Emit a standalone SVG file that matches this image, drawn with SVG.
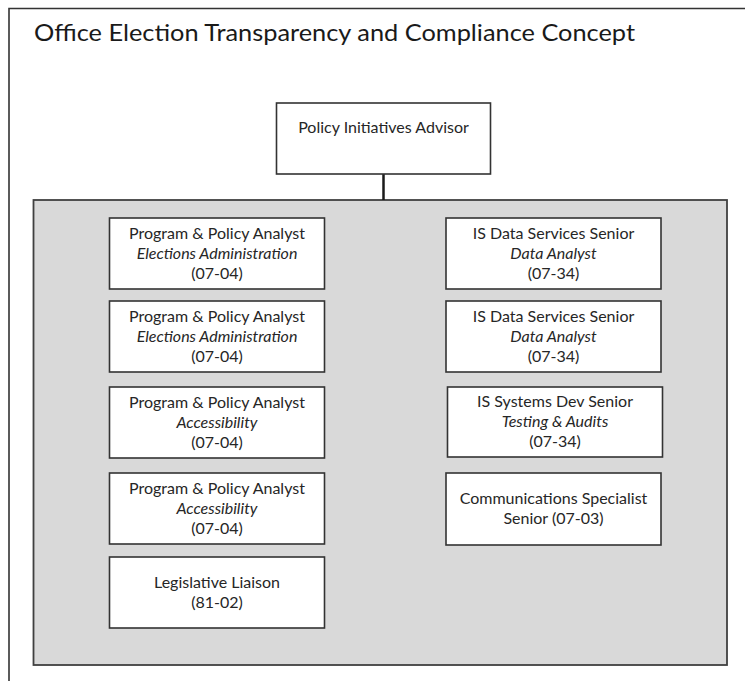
<svg xmlns="http://www.w3.org/2000/svg" width="745" height="681" viewBox="0 0 745 681">
<style>
.box{fill:#ffffff;stroke:#333333;stroke-width:1.6}
.t{font-family:Lato,"Open Sans","Liberation Sans",sans-serif;font-size:16px;fill:#262626;text-anchor:middle}
.i{font-style:italic}
.title{font-family:Lato,"Open Sans","Liberation Sans",sans-serif;font-size:24px;fill:#1a1a1a}
</style>
<rect x="0" y="0" width="745" height="681" fill="#ffffff"/>
<path d="M9,681 V8.5 H745" fill="none" stroke="#333333" stroke-width="1.6"/>
<text class="title" x="34" y="41" textLength="601" lengthAdjust="spacingAndGlyphs">Office Election Transparency and Compliance Concept</text>
<rect id="panel" x="33.5" y="200" width="693.5" height="465" fill="#d9d9d9" stroke="#404040" stroke-width="1.8"/>
<g id="connectors">
<line x1="383.5" y1="174" x2="383.5" y2="200" stroke="#1a1a1a" stroke-width="2.5"/>
</g>
<g id="advisor">
<rect class="box" x="276.5" y="103" width="214" height="71"/>
<text class="t" x="383.5" y="133">Policy Initiatives Advisor</text>
</g>
<g id="ppa1">
<rect class="box" x="109.5" y="218" width="215" height="71"/>
<text class="t" x="217" y="238.5">Program &amp; Policy Analyst</text>
<text class="t i" x="217" y="258.5">Elections Administration</text>
<text class="t" x="217" y="278.5">(07-04)</text>
</g>
<g id="ppa2">
<rect class="box" x="109.5" y="301" width="215" height="71"/>
<text class="t" x="217" y="321.5">Program &amp; Policy Analyst</text>
<text class="t i" x="217" y="341.5">Elections Administration</text>
<text class="t" x="217" y="361.5">(07-04)</text>
</g>
<g id="ppa3">
<rect class="box" x="109.5" y="387" width="215" height="71"/>
<text class="t" x="217" y="407.5">Program &amp; Policy Analyst</text>
<text class="t i" x="217" y="427.5">Accessibility</text>
<text class="t" x="217" y="447.5">(07-04)</text>
</g>
<g id="ppa4">
<rect class="box" x="109.5" y="473" width="215" height="71"/>
<text class="t" x="217" y="493.5">Program &amp; Policy Analyst</text>
<text class="t i" x="217" y="513.5">Accessibility</text>
<text class="t" x="217" y="533.5">(07-04)</text>
</g>
<g id="liaison">
<rect class="box" x="109.5" y="557" width="215" height="71"/>
<text class="t" x="217" y="587.5">Legislative Liaison</text>
<text class="t" x="217" y="607.5">(81-02)</text>
</g>
<g id="isds1">
<rect class="box" x="446" y="218" width="215" height="71"/>
<text class="t" x="553.5" y="238.5">IS Data Services Senior</text>
<text class="t i" x="553.5" y="258.5">Data Analyst</text>
<text class="t" x="553.5" y="278.5">(07-34)</text>
</g>
<g id="isds2">
<rect class="box" x="446" y="301" width="215" height="71"/>
<text class="t" x="553.5" y="321.5">IS Data Services Senior</text>
<text class="t i" x="553.5" y="341.5">Data Analyst</text>
<text class="t" x="553.5" y="361.5">(07-34)</text>
</g>
<g id="issd">
<rect class="box" x="447.5" y="387" width="215" height="70"/>
<text class="t" x="555" y="406.5">IS Systems Dev Senior</text>
<text class="t i" x="555" y="426.5">Testing &amp; Audits</text>
<text class="t" x="555" y="446.5">(07-34)</text>
</g>
<g id="comms">
<rect class="box" x="446" y="473" width="215" height="72"/>
<text class="t" x="553.5" y="503.5">Communications Specialist</text>
<text class="t" x="553.5" y="523.5">Senior (07-03)</text>
</g>
</svg>
